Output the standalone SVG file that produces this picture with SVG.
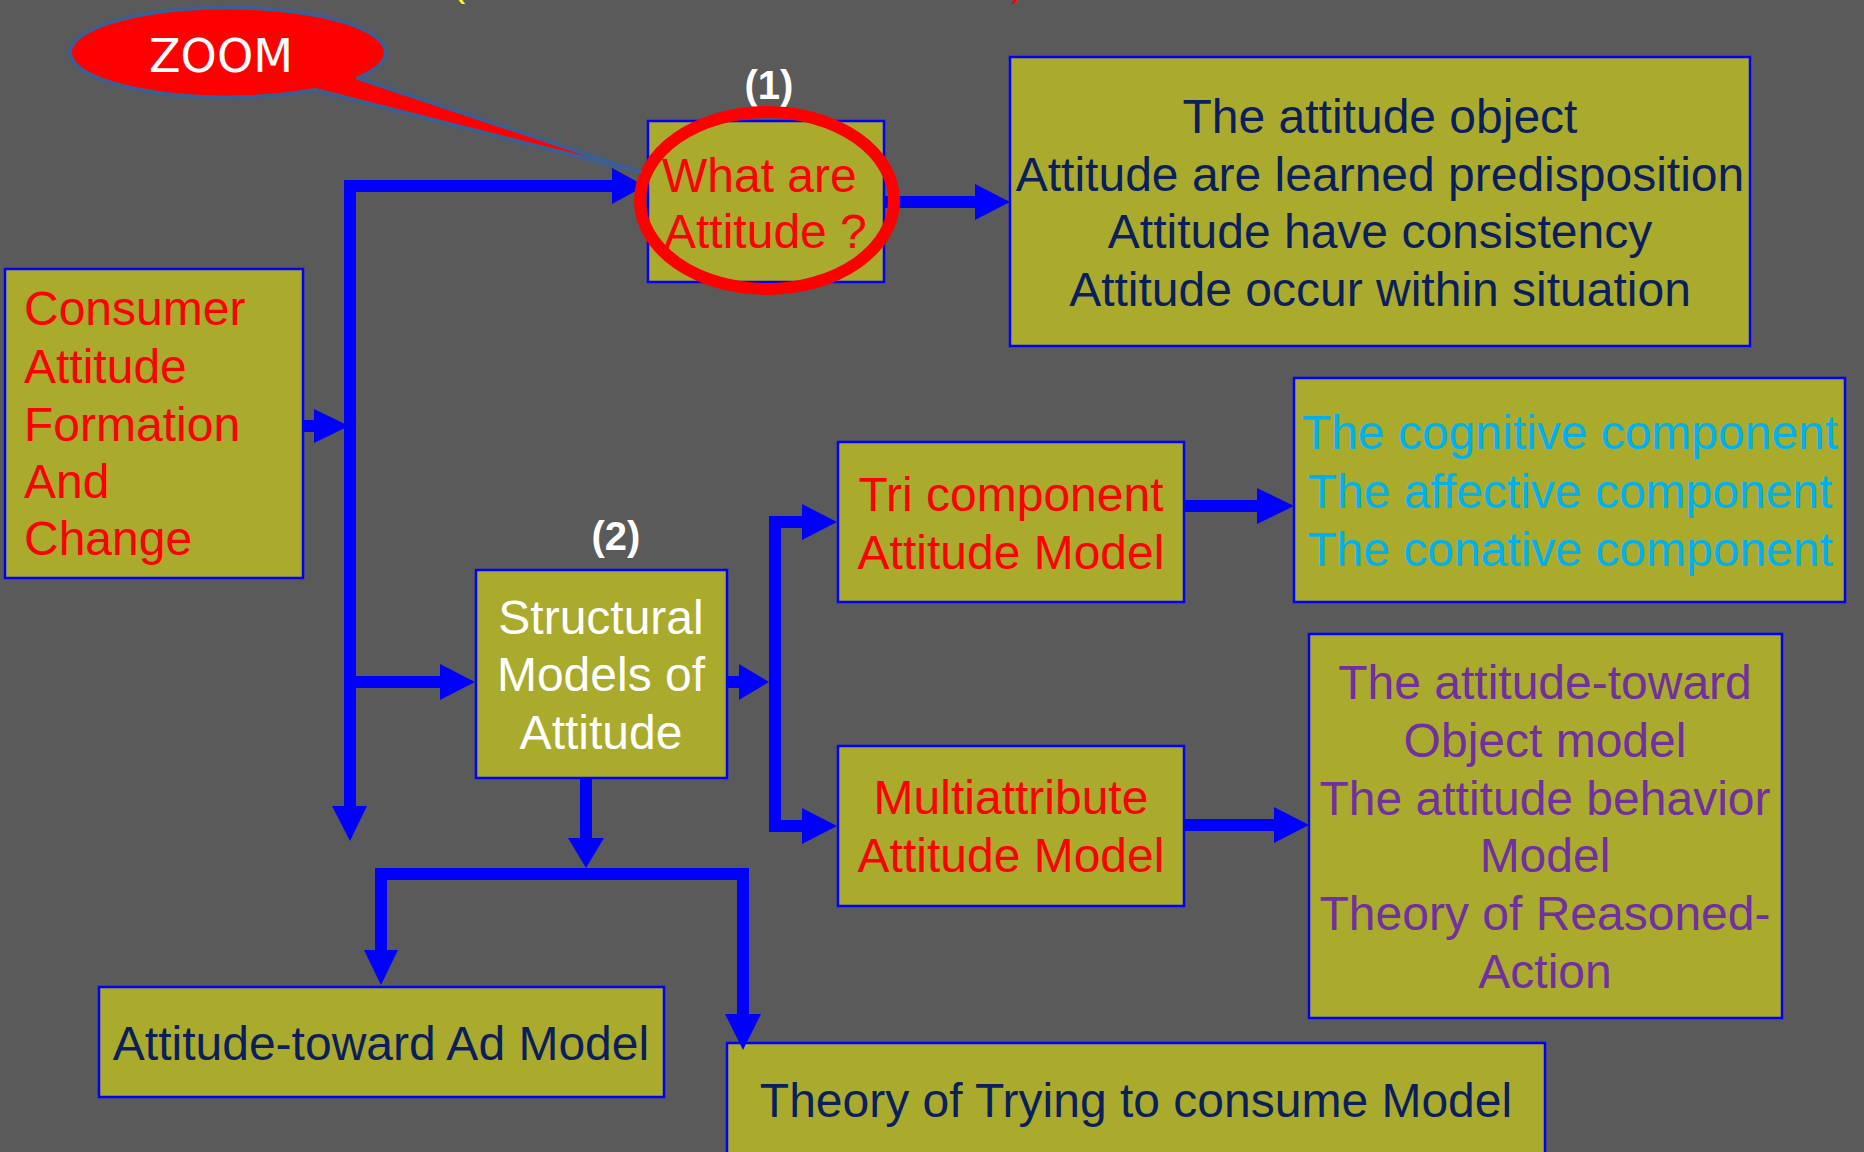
<svg xmlns="http://www.w3.org/2000/svg" width="1864" height="1152" viewBox="0 0 1864 1152">
<style>
.box{fill:#aaaa2c;stroke:#0000ff;stroke-width:2.5}
.t{font-family:"Liberation Sans",Arial,sans-serif;font-size:48px}
.c{text-anchor:middle}
.red{fill:#ff0000}
.navy{fill:#0a1f5c}
.wh{fill:#ffffff}
.cy{fill:#00b0f0}
.pu{fill:#7030a0}
.lbl{font-family:"Liberation Sans",Arial,sans-serif;font-size:40px;font-weight:bold;fill:#ffffff;text-anchor:middle}
.ln{fill:none;stroke:#0000ff;stroke-width:12;stroke-linejoin:miter;stroke-linecap:butt}
.ah{fill:#0000ff}
</style>
<rect x="0" y="0" width="1864" height="1152" fill="#5a5a5a"/>
<text x="452" y="-4" font-family="Liberation Sans,Arial,sans-serif" font-size="40" fill="#ffff00">(</text>
<text x="1011" y="-4" font-family="Liberation Sans,Arial,sans-serif" font-size="40" fill="#ff0000">)</text>

<g id="consumer">
<rect class="box" x="5" y="269" width="298" height="309"/>
<text class="t red" x="24" y="325">Consumer</text>
<text class="t red" x="24" y="383">Attitude</text>
<text class="t red" x="24" y="441">Formation</text>
<text class="t red" x="24" y="498">And</text>
<text class="t red" x="24" y="555">Change</text>
</g>

<g id="what">
<rect class="box" x="648" y="121" width="236" height="161"/>
<text class="t red" x="662" y="192">What are</text>
<text class="t red" x="664" y="248">Attitude ?</text>
</g>
<text class="lbl" x="769" y="99">(1)</text>

<g id="facts">
<rect class="box" x="1010" y="57" width="740" height="289"/>
<text class="t c navy" x="1380" y="133">The attitude object</text>
<text class="t c navy" x="1380" y="191">Attitude are learned predisposition</text>
<text class="t c navy" x="1380" y="248">Attitude have consistency</text>
<text class="t c navy" x="1380" y="306">Attitude occur within situation</text>
</g>

<g id="structural">
<rect class="box" x="476" y="570" width="251" height="208"/>
<text class="t c wh" x="601" y="634">Structural</text>
<text class="t c wh" x="601" y="691">Models of</text>
<text class="t c wh" x="601" y="749">Attitude</text>
</g>
<text class="lbl" x="616" y="550">(2)</text>

<g id="tri">
<rect class="box" x="838" y="442" width="346" height="160"/>
<text class="t c red" x="1011" y="511">Tri component</text>
<text class="t c red" x="1011" y="569">Attitude Model</text>
</g>

<g id="components">
<rect class="box" x="1294" y="378" width="551" height="224"/>
<text class="t c cy" x="1570" y="449">The cognitive component</text>
<text class="t c cy" x="1570" y="508">The affective component</text>
<text class="t c cy" x="1570" y="566">The conative component</text>
</g>

<g id="multi">
<rect class="box" x="838" y="746" width="346" height="160"/>
<text class="t c red" x="1011" y="814">Multiattribute</text>
<text class="t c red" x="1011" y="872">Attitude Model</text>
</g>

<g id="multimodels">
<rect class="box" x="1309" y="634" width="473" height="384"/>
<text class="t c pu" x="1545" y="699">The attitude-toward</text>
<text class="t c pu" x="1545" y="757">Object model</text>
<text class="t c pu" x="1545" y="815">The attitude behavior</text>
<text class="t c pu" x="1545" y="872">Model</text>
<text class="t c pu" x="1545" y="930">Theory of Reasoned-</text>
<text class="t c pu" x="1545" y="988">Action</text>
</g>

<g id="admodel">
<rect class="box" x="99" y="987" width="565" height="110"/>
<text class="t c navy" x="381" y="1060">Attitude-toward Ad Model</text>
</g>

<g id="trying">
<rect class="box" x="727" y="1043" width="818" height="120"/>
<text class="t c navy" x="1136" y="1117">Theory of Trying to consume Model</text>
</g>

<g id="connectors">
<path class="ln" d="M303,426 H316"/>
<polygon class="ah" points="314,409 349,426 314,443"/>
<path class="ln" d="M350,808 V186 H614"/>
<polygon class="ah" points="332,806 367,806 350,841"/>
<polygon class="ah" points="612,168 645,186 612,204"/>
<path class="ln" d="M350,682 H442"/>
<polygon class="ah" points="440,664 475,682 440,700"/>
<path class="ln" d="M884,202 H977"/>
<polygon class="ah" points="975,184 1010,202 975,220"/>
<path class="ln" d="M727,682 H741"/>
<polygon class="ah" points="739,664 769,682 739,700"/>
<path class="ln" d="M804,522 H775 V826 H804"/>
<polygon class="ah" points="802,504 837,522 802,540"/>
<polygon class="ah" points="802,808 837,826 802,844"/>
<path class="ln" d="M1184,506 H1259"/>
<polygon class="ah" points="1257,488 1294,506 1257,524"/>
<path class="ln" d="M1184,825 H1276"/>
<polygon class="ah" points="1274,807 1309,825 1274,843"/>
<path class="ln" d="M586,778 V840"/>
<polygon class="ah" points="568,838 604,838 586,868"/>
<path class="ln" d="M381,952 V874 H743 V1016"/>
<polygon class="ah" points="364,950 398,950 381,985"/>
<polygon class="ah" points="725,1014 761,1014 743,1050"/>
</g>

<g id="highlight">
<ellipse cx="767" cy="200.5" rx="127" ry="88.5" fill="none" stroke="#ff0000" stroke-width="12"/>
</g>

<g id="zoom-callout">
<path d="M358,78 L640,172 L315,90 A158,45 0 1 1 358,78 Z" fill="#ff0000" stroke="#3d5f8f" stroke-width="4" stroke-linejoin="round"/>
<text x="221" y="72" font-family="DejaVu Sans,sans-serif" font-size="46" fill="#ffffff" text-anchor="middle" textLength="144" lengthAdjust="spacingAndGlyphs">ZOOM</text>
</g>
</svg>
